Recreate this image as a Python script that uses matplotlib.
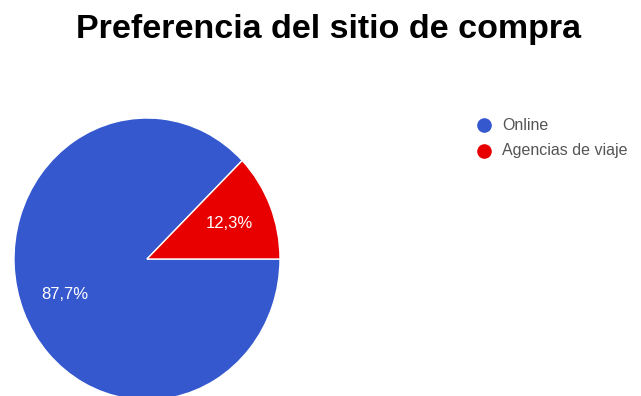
import matplotlib.pyplot as plt
from matplotlib.lines import Line2D

# Datos de la encuesta
categorias = ['Online', 'Agencias de viaje']
porcentajes = [87.7, 12.3]
colores = ['#3558CF', '#E80000']

W, H = 641, 396
fig = plt.figure(figsize=(W / 100, H / 100), dpi=100)

fig.text(328 / W, 1 - 38 / H, 'Preferencia del sitio de compra',
         ha='center', va='baseline', fontsize=24.5, fontweight='bold',
         family='Liberation Sans')

# Ejes del pastel (centro y radios en pixeles)
cx, cy, rx, ry = 147, 259, 133, 141
ax = fig.add_axes([(cx - rx) / W, (H - cy - ry) / H, 2 * rx / W, 2 * ry / H])
ax.pie(porcentajes, colors=colores, startangle=0, counterclock=False,
       autopct=lambda p: f'{p:.1f}%'.replace('.', ','), pctdistance=0.67,
       wedgeprops=dict(edgecolor='white', linewidth=1),
       textprops=dict(color='white', fontsize=12, family='Liberation Sans'))
ax.set_aspect('auto')
ax.set_xlim(-1, 1)
ax.set_ylim(-1, 1)

# Leyenda: un circulo y una etiqueta por categoria
fila_y = [125, 151]
for cat, col, y in zip(categorias, colores, fila_y):
    fig.add_artist(Line2D([484 / W], [1 - y / H], marker='o', markersize=9.5,
                          markerfacecolor=col, markeredgecolor=col,
                          linestyle=''))
    fig.text(502 / W, 1 - y / H, cat, ha='left', va='center', fontsize=11.5,
             color='#555555', family='Liberation Sans')

fig.savefig('out.png', dpi=100)
